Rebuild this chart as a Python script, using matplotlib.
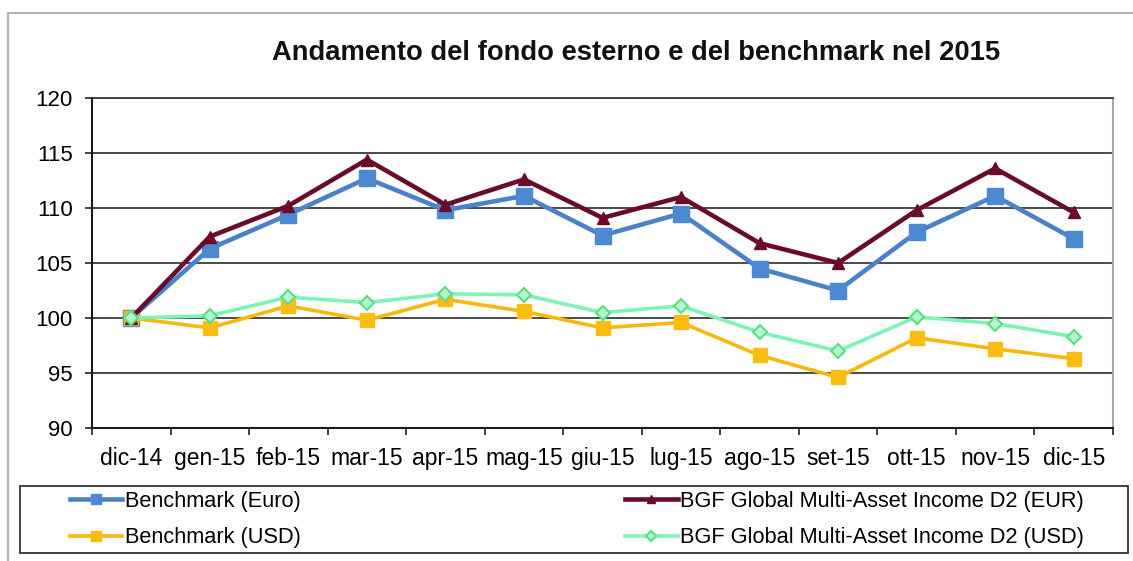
import numpy as np
import matplotlib
matplotlib.use("Agg")
import matplotlib.pyplot as plt
from matplotlib.patches import Rectangle
from matplotlib.lines import Line2D

plt.rcParams['font.family'] = ['Liberation Sans', 'DejaVu Sans']

# Monthly index values (base 100 at dic-14)
months = ["dic-14", "gen-15", "feb-15", "mar-15", "apr-15", "mag-15", "giu-15",
          "lug-15", "ago-15", "set-15", "ott-15", "nov-15", "dic-15"]
bench_eur = [100.0, 106.3, 109.4, 112.7, 109.8, 111.1, 107.5, 109.5, 104.5, 102.5, 107.8, 111.1, 107.2]
bgf_eur = [100.0, 107.4, 110.2, 114.4, 110.3, 112.6, 109.1, 111.0, 106.8, 105.0, 109.8, 113.6, 109.6]
bench_usd = [100.0, 99.1, 101.1, 99.8, 101.7, 100.6, 99.1, 99.6, 96.6, 94.6, 98.2, 97.2, 96.3]
bgf_usd = [100.0, 100.2, 101.9, 101.4, 102.2, 102.1, 100.5, 101.1, 98.7, 97.0, 100.1, 99.5, 98.3]

labels = ["Benchmark (Euro)", "Benchmark (USD)",
          "BGF Global Multi-Asset Income D2 (EUR)", "BGF Global Multi-Asset Income D2 (USD)"]
yticks = [90, 95, 100, 105, 110, 115, 120]
title = "Andamento del fondo esterno e del benchmark nel 2015"

W, H = 1133, 561
fig = plt.figure(figsize=(W / 100, H / 100), dpi=100)
fig.patch.set_facecolor("white")

left, right, top, bottom = 92, 1113, 98, 428
ax = fig.add_axes([left / W, 1 - bottom / H, (right - left) / W, (bottom - top) / H])

x = np.arange(len(months))
l_beur, = ax.plot(x, bench_eur, color="#4a82c9", lw=3.3, marker="s", ms=11,
                  mfc="#4d88d2", mec="#4d88d2", zorder=3)
l_busd, = ax.plot(x, bench_usd, color="#f7b80c", lw=2.6, marker="s", ms=10,
                  mfc="#fbbd14", mec="#fbbd14", zorder=3)
l_geur, = ax.plot(x, bgf_eur, color="#6a0b2b", lw=3.3, marker="^", ms=9,
                  mfc="#6a0b2b", mec="#6a0b2b", zorder=4)
l_gusd, = ax.plot(x, bgf_usd, color="#80f2b8", lw=2.6, marker="D", ms=7,
                  mfc="#b2f8cf", mec="#5ddc80", mew=1.5, zorder=5)

ax.set_xlim(-0.5, len(months) - 0.5)
ax.set_ylim(90, 120)
ax.set_yticks(yticks)
ax.set_yticklabels([str(v) for v in yticks], fontsize=16)
ax.set_xticks(x)
ax.set_xticklabels(months, fontsize=16.5)
ax.set_xticks(np.arange(-0.5, len(months), 1), minor=True)
ax.tick_params(axis="x", which="major", length=0, pad=14)
ax.tick_params(axis="x", which="minor", length=5, width=1.2, color="#222222", direction="out")
ax.tick_params(axis="y", which="major", length=5, width=1.2, color="#222222", pad=9)

ax.yaxis.grid(True, color="#3c3c3c", lw=1.3, zorder=1)
ax.set_axisbelow(True)
for side in ("left", "bottom"):
    ax.spines[side].set_color("#1a1a1a")
    ax.spines[side].set_linewidth(1.5)
ax.spines["top"].set_color("#3c3c3c")
ax.spines["top"].set_linewidth(1.3)
ax.spines["right"].set_color("#a8a8a8")
ax.spines["right"].set_linewidth(1.5)

fig.text(636 / W, 1 - 60 / H, title, ha="center", va="baseline",
         fontsize=19.7, fontweight="bold", color="#111111")

# Outer chart frame (left and top edges)
fig.add_artist(Line2D([8 / W, 8 / W], [0, 1 - 13 / H], transform=fig.transFigure,
                      color="#b4b4b4", lw=1.5))
fig.add_artist(Line2D([8 / W, 1], [1 - 13 / H, 1 - 13 / H], transform=fig.transFigure,
                      color="#b4b4b4", lw=1.5))

# Legend box
fig.add_artist(Rectangle((20 / W, 1 - 553 / H), (1128 - 20) / W, (553 - 486) / H,
                         transform=fig.transFigure, fill=False, edgecolor="#333333", lw=1.3))
fig.legend([l_beur, l_busd, l_geur, l_gusd], labels, loc="upper left",
           bbox_to_anchor=(70 / W, 1 - 491 / H), ncol=2, frameon=False, fontsize=15.7,
           handlelength=2.4, handletextpad=0.1, columnspacing=14.9, labelspacing=0.71,
           borderpad=0, borderaxespad=0, markerscale=0.7)

fig.savefig("out.png", dpi=100, facecolor="white")
